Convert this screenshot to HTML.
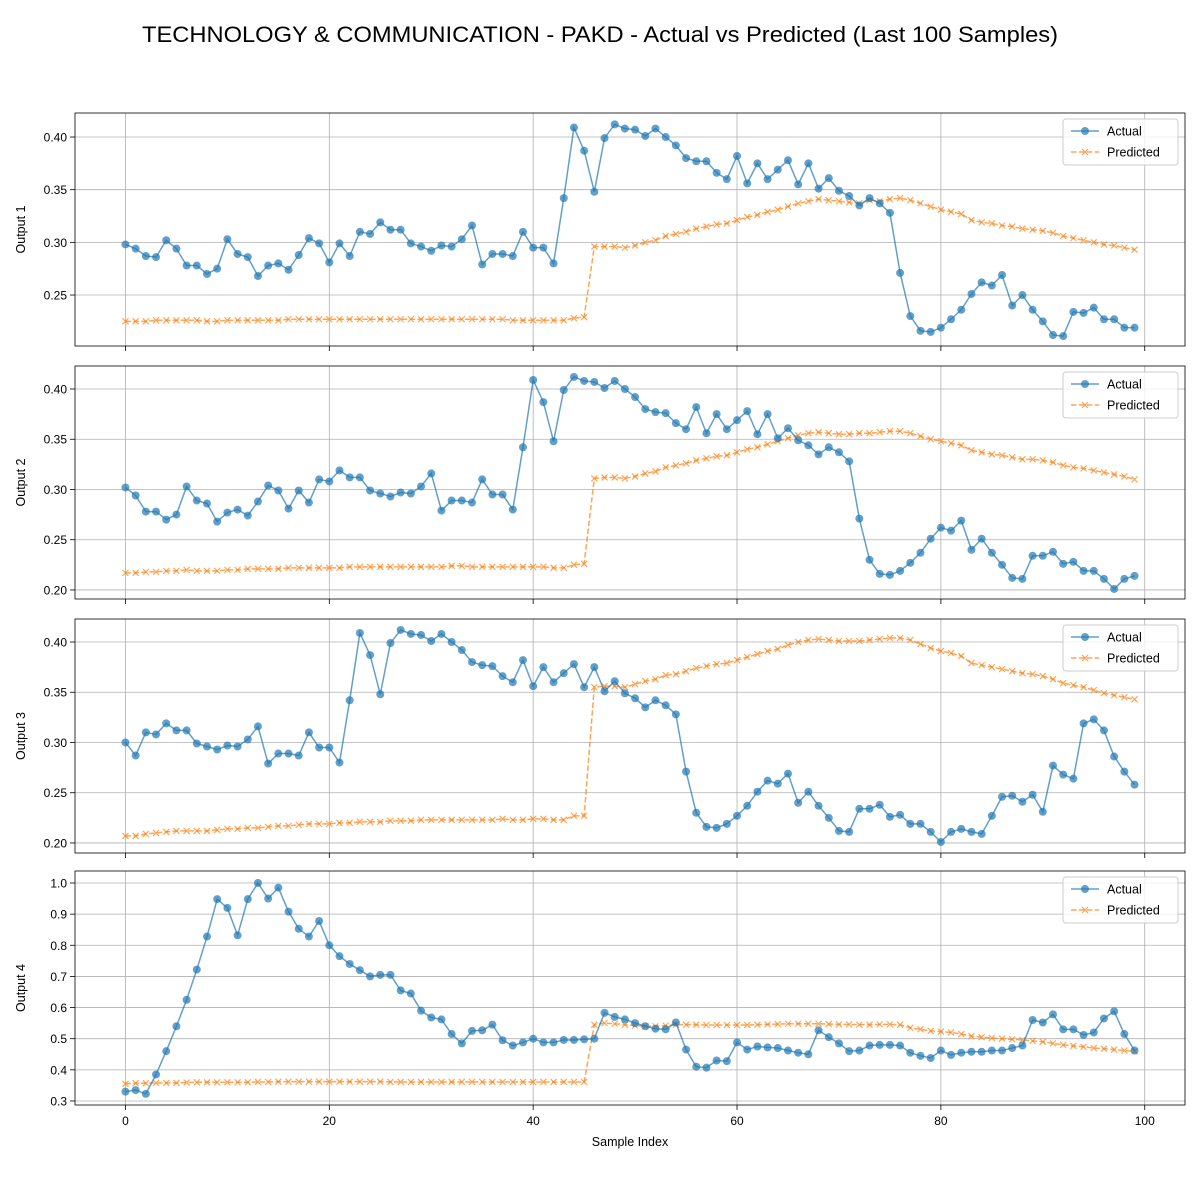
<!DOCTYPE html>
<html><head><meta charset="utf-8"><style>
body{margin:0;background:#fff}
svg{display:block;font-family:"Liberation Sans","DejaVu Sans",sans-serif}
</style></head><body>
<svg id="chart" width="1200" height="1200" xmlns="http://www.w3.org/2000/svg">
<rect width="1200" height="1200" fill="#fff"/>
<text x="600" y="42" font-size="22" text-anchor="middle" textLength="916" lengthAdjust="spacingAndGlyphs">TECHNOLOGY &amp; COMMUNICATION - PAKD - Actual vs Predicted (Last 100 Samples)</text>
</svg>
<script>
const xTicks=[0,20,40,60,80,100];
const labels=["Output 1","Output 2","Output 3","Output 4"];
const actual1=[0.298,0.294,0.287,0.286,0.302,0.294,0.278,0.278,0.270,0.275,0.303,0.289,0.286,0.268,0.278,0.280,0.274,0.288,0.304,0.299,0.281,0.299,0.287,0.310,0.308,0.319,0.312,0.312,0.299,0.296,0.292,0.297,0.296,0.303,0.316,0.279,0.289,0.289,0.287,0.310,0.295,0.295,0.280,0.342,0.409,0.387,0.348,0.399,0.412,0.408,0.407,0.401,0.408,0.400,0.392,0.380,0.377,0.377,0.366,0.360,0.382,0.356,0.375,0.360,0.369,0.378,0.355,0.375,0.351,0.361,0.349,0.344,0.335,0.342,0.337,0.328,0.271,0.230,0.216,0.215,0.219,0.227,0.236,0.251,0.262,0.259,0.269,0.240,0.250,0.236,0.225,0.212,0.211,0.234,0.233,0.238,0.227,0.227,0.219,0.219];
const predicted1=[0.225,0.225,0.225,0.226,0.226,0.226,0.226,0.226,0.225,0.225,0.226,0.226,0.226,0.226,0.226,0.226,0.227,0.227,0.227,0.227,0.227,0.227,0.227,0.227,0.227,0.227,0.227,0.227,0.227,0.227,0.227,0.227,0.227,0.227,0.227,0.227,0.227,0.227,0.226,0.226,0.226,0.226,0.226,0.226,0.228,0.229,0.296,0.296,0.296,0.295,0.297,0.300,0.302,0.306,0.308,0.310,0.313,0.315,0.317,0.318,0.321,0.324,0.326,0.329,0.331,0.334,0.337,0.339,0.341,0.340,0.339,0.338,0.337,0.340,0.339,0.341,0.342,0.340,0.337,0.334,0.331,0.329,0.327,0.321,0.319,0.318,0.316,0.315,0.313,0.312,0.311,0.309,0.306,0.304,0.302,0.300,0.298,0.297,0.295,0.293];
const actual2=[0.302,0.294,0.278,0.278,0.270,0.275,0.303,0.289,0.286,0.268,0.277,0.280,0.274,0.288,0.304,0.299,0.281,0.299,0.287,0.310,0.308,0.319,0.312,0.312,0.299,0.296,0.293,0.297,0.296,0.303,0.316,0.279,0.289,0.289,0.287,0.310,0.295,0.295,0.280,0.342,0.409,0.387,0.348,0.399,0.412,0.408,0.407,0.401,0.408,0.400,0.392,0.380,0.377,0.376,0.366,0.360,0.382,0.356,0.375,0.360,0.369,0.378,0.355,0.375,0.351,0.361,0.349,0.344,0.335,0.342,0.337,0.328,0.271,0.230,0.216,0.215,0.219,0.227,0.237,0.251,0.262,0.259,0.269,0.240,0.251,0.237,0.225,0.212,0.211,0.234,0.234,0.238,0.226,0.228,0.219,0.219,0.211,0.201,0.211,0.214];
const predicted2=[0.217,0.217,0.218,0.218,0.219,0.219,0.220,0.219,0.219,0.219,0.220,0.220,0.221,0.221,0.221,0.221,0.222,0.222,0.222,0.222,0.222,0.222,0.223,0.223,0.223,0.223,0.223,0.223,0.223,0.223,0.223,0.223,0.224,0.224,0.223,0.223,0.223,0.223,0.223,0.223,0.223,0.223,0.222,0.222,0.225,0.226,0.311,0.312,0.312,0.311,0.313,0.316,0.318,0.322,0.324,0.326,0.329,0.331,0.333,0.334,0.337,0.340,0.342,0.345,0.348,0.351,0.354,0.356,0.357,0.356,0.355,0.355,0.356,0.356,0.357,0.358,0.358,0.356,0.353,0.350,0.348,0.346,0.344,0.339,0.337,0.335,0.334,0.332,0.330,0.330,0.329,0.327,0.324,0.322,0.321,0.319,0.317,0.315,0.313,0.310];
const actual3=[0.300,0.287,0.310,0.308,0.319,0.312,0.312,0.299,0.296,0.293,0.297,0.296,0.303,0.316,0.279,0.289,0.289,0.287,0.310,0.295,0.295,0.280,0.342,0.409,0.387,0.348,0.399,0.412,0.408,0.407,0.401,0.408,0.400,0.392,0.380,0.377,0.376,0.366,0.360,0.382,0.356,0.375,0.360,0.369,0.378,0.355,0.375,0.351,0.361,0.349,0.344,0.335,0.342,0.337,0.328,0.271,0.230,0.216,0.215,0.219,0.227,0.237,0.251,0.262,0.259,0.269,0.240,0.251,0.237,0.225,0.212,0.211,0.234,0.234,0.238,0.226,0.228,0.219,0.219,0.211,0.201,0.211,0.214,0.211,0.209,0.227,0.246,0.247,0.241,0.248,0.231,0.277,0.268,0.264,0.319,0.323,0.312,0.286,0.271,0.258];
const predicted3=[0.207,0.207,0.209,0.210,0.211,0.212,0.212,0.212,0.212,0.213,0.214,0.214,0.215,0.215,0.216,0.217,0.217,0.218,0.219,0.219,0.219,0.220,0.220,0.221,0.221,0.221,0.222,0.222,0.222,0.223,0.223,0.223,0.223,0.223,0.223,0.223,0.223,0.224,0.223,0.223,0.224,0.224,0.223,0.223,0.227,0.227,0.355,0.356,0.356,0.355,0.358,0.361,0.363,0.367,0.368,0.371,0.374,0.376,0.378,0.379,0.382,0.385,0.388,0.391,0.393,0.397,0.400,0.402,0.403,0.402,0.401,0.401,0.401,0.402,0.403,0.404,0.404,0.402,0.398,0.394,0.391,0.389,0.386,0.379,0.377,0.375,0.373,0.371,0.369,0.368,0.366,0.363,0.359,0.357,0.355,0.352,0.349,0.347,0.345,0.343];
const actual4=[0.330,0.335,0.323,0.385,0.460,0.540,0.625,0.722,0.828,0.948,0.920,0.832,0.948,1.000,0.950,0.985,0.908,0.853,0.828,0.878,0.800,0.765,0.740,0.720,0.700,0.705,0.705,0.655,0.645,0.590,0.568,0.562,0.515,0.485,0.525,0.527,0.545,0.495,0.478,0.488,0.500,0.488,0.488,0.496,0.496,0.498,0.500,0.583,0.570,0.562,0.550,0.540,0.532,0.530,0.552,0.465,0.410,0.407,0.430,0.428,0.488,0.465,0.475,0.472,0.470,0.462,0.455,0.450,0.527,0.505,0.485,0.460,0.462,0.478,0.480,0.480,0.478,0.455,0.445,0.438,0.462,0.448,0.455,0.458,0.458,0.462,0.462,0.470,0.478,0.560,0.552,0.578,0.530,0.530,0.512,0.520,0.565,0.588,0.515,0.462];
const predicted4=[0.355,0.357,0.357,0.358,0.358,0.358,0.359,0.360,0.360,0.360,0.360,0.360,0.360,0.361,0.361,0.362,0.362,0.362,0.362,0.362,0.362,0.362,0.362,0.362,0.362,0.362,0.361,0.361,0.361,0.361,0.361,0.361,0.361,0.361,0.361,0.361,0.361,0.361,0.361,0.361,0.361,0.361,0.361,0.361,0.361,0.361,0.545,0.550,0.548,0.545,0.542,0.540,0.540,0.542,0.545,0.545,0.545,0.544,0.544,0.544,0.544,0.544,0.545,0.546,0.547,0.548,0.548,0.548,0.548,0.547,0.546,0.546,0.545,0.545,0.546,0.546,0.545,0.535,0.530,0.525,0.523,0.520,0.515,0.508,0.505,0.502,0.500,0.498,0.496,0.493,0.490,0.485,0.480,0.477,0.474,0.470,0.468,0.465,0.462,0.460];
const yTicks1=[0.25,0.30,0.35,0.40];
const yTicks2=[0.20,0.25,0.30,0.35,0.40];
const yTicks3=[0.20,0.25,0.30,0.35,0.40];
const yTicks4=[0.3,0.4,0.5,0.6,0.7,0.8,0.9,1.0];

const NS="http://www.w3.org/2000/svg";
const svg=document.getElementById('chart');
function mk(tag,attrs,parent){const e=document.createElementNS(NS,tag);for(const k in attrs)e.setAttribute(k,attrs[k]);(parent||svg).appendChild(e);return e;}
const L=75,R=1185,X0=-4.95,X1=103.95;
const xs=v=>L+(v-X0)/(X1-X0)*(R-L);
const panels=[
 {top:113,bot:346,y0:0.2016,y1:0.4228,ticks:yTicks1,a:actual1,p:predicted1,dec:2},
 {top:366,bot:599,y0:0.1910,y1:0.4229,ticks:yTicks2,a:actual2,p:predicted2,dec:2},
 {top:619,bot:853,y0:0.1900,y1:0.4229,ticks:yTicks3,a:actual3,p:predicted3,dec:2},
 {top:871,bot:1105,y0:0.2871,y1:1.0385,ticks:yTicks4,a:actual4,p:predicted4,dec:1}
];
panels.forEach((pn,pi)=>{
 const g=mk('g',{});
 
 
 const ys=v=>pn.bot-(v-pn.y0)/(pn.y1-pn.y0)*(pn.bot-pn.top);
 xTicks.forEach(t=>{
  const x=xs(t);
  const gl=mk('line',{x1:x,x2:x,y1:pn.top,y2:pn.bot,stroke:'#b0b0b0','stroke-width':0.8},g);
  
  
  mk('line',{x1:x,x2:x,y1:pn.bot,y2:pn.bot+5,stroke:'#000','stroke-width':0.8},g);
  if(pi===3){
   const tx=mk('text',{x:x,y:pn.bot+20,'font-size':12,'text-anchor':'middle'},g);
   tx.textContent=t;
   
   
  }
 });
 pn.ticks.forEach(t=>{
  const y=ys(t);
  const gl=mk('line',{x1:L,x2:R,y1:y,y2:y,stroke:'#b0b0b0','stroke-width':0.8},g);
  
  
  mk('line',{x1:L-5,x2:L,y1:y,y2:y,stroke:'#000','stroke-width':0.8},g);
  const tx=mk('text',{x:L-8,y:y+4.5,'font-size':12,'text-anchor':'end'},g);
  tx.textContent=t.toFixed(pn.dec);
  
  
 });
 const yl=mk('text',{x:0,y:0,'font-size':12.5,'text-anchor':'middle',transform:`translate(25,${(pn.top+pn.bot)/2}) rotate(-90)`},g);
 yl.textContent=labels[pi];
 
 
 const pp=pn.p.map((v,i)=>xs(i)+','+ys(v)).join(' ');
 const pl=mk('polyline',{points:pp,fill:'none',stroke:'#ff7f0e','stroke-width':1.5,'stroke-dasharray':'5.5,2.4','stroke-opacity':0.7},g);
 
 
 pn.p.forEach((v,i)=>{
  const x=xs(i),y=ys(v);
  const m=mk('path',{d:`M${x-3},${y-3}L${x+3},${y+3}M${x-3},${y+3}L${x+3},${y-3}`,stroke:'#ff7f0e','stroke-width':1.2,'stroke-opacity':0.7},g);
  
  
 });
 const ap=pn.a.map((v,i)=>xs(i)+','+ys(v)).join(' ');
 const al=mk('polyline',{points:ap,fill:'none',stroke:'#1f77b4','stroke-width':1.5,'stroke-opacity':0.7},g);
 
 
 pn.a.forEach((v,i)=>{
  const c=mk('circle',{cx:xs(i),cy:ys(v),r:4,fill:'#1f77b4','fill-opacity':0.7},g);
  
  
 });
 const fr=mk('rect',{x:L,y:pn.top,width:R-L,height:pn.bot-pn.top,fill:'none',stroke:'#000','stroke-width':0.8},g);
 
 
 const lg=mk('g',{},g);
 
 
 const lx=1063,ly=pn.top+6;
 mk('rect',{x:lx,y:ly,width:115,height:46,rx:3,fill:'#fff','fill-opacity':0.8,stroke:'#ccc','stroke-width':1},lg);
 mk('line',{x1:lx+8,x2:lx+36,y1:ly+12,y2:ly+12,stroke:'#1f77b4','stroke-width':1.5,'stroke-opacity':0.7},lg);
 mk('circle',{cx:lx+22,cy:ly+12,r:4,fill:'#1f77b4','fill-opacity':0.7},lg);
 const t1=mk('text',{x:lx+44,y:ly+16.5,'font-size':12.5},lg);t1.textContent='Actual';
 
 
 mk('line',{x1:lx+8,x2:lx+36,y1:ly+33,y2:ly+33,stroke:'#ff7f0e','stroke-width':1.5,'stroke-dasharray':'5.5,2.4','stroke-opacity':0.7},lg);
 mk('path',{d:`M${lx+19},${ly+30}L${lx+25},${ly+36}M${lx+19},${ly+36}L${lx+25},${ly+30}`,stroke:'#ff7f0e','stroke-width':1.2,'stroke-opacity':0.7},lg);
 const t2=mk('text',{x:lx+44,y:ly+37.5,'font-size':12.5},lg);t2.textContent='Predicted';
 
 
});
const xt=mk('text',{x:630,y:1146,'font-size':12.5,'text-anchor':'middle'});
xt.textContent='Sample Index';


</script>
</body></html>
